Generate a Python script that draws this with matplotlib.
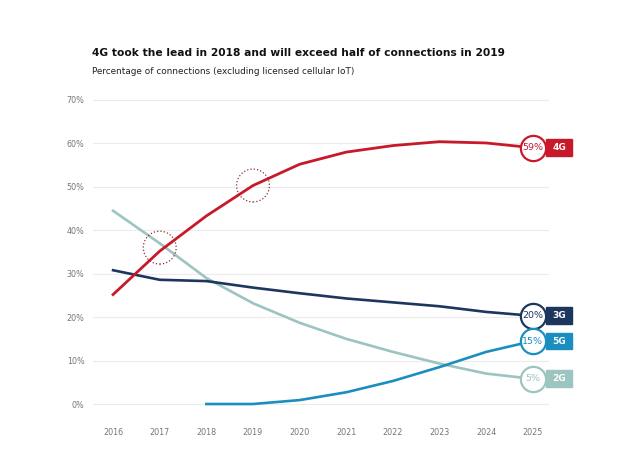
import numpy as np
import matplotlib.pyplot as plt

# dados
anos = [2016, 2017, 2018, 2019, 2020, 2021, 2022, 2023, 2024, 2025]
g4 = [25.2, 35.2, 43.3, 50.3, 55.2, 58.0, 59.5, 60.4, 60.1, 59.0]
g3 = [30.8, 28.6, 28.3, 26.8, 25.5, 24.3, 23.4, 22.5, 21.2, 20.3]
g2 = [44.5, 37.0, 29.0, 23.2, 18.7, 15.0, 12.0, 9.3, 7.0, 5.8]
anos_5g = [2018, 2019, 2020, 2021, 2022, 2023, 2024, 2025]
g5 = [0.0, 0.0, 0.9, 2.7, 5.3, 8.5, 12.0, 14.5]

rotulos_fim = ['59%', '20%', '15%', '5%']
nomes = ['4G', '3G', '5G', '2G']
destaques_x = [2017, 2019]
destaques_y = [36.0, 50.3]

cor_4g = '#c8192b'
cor_3g = '#1d365e'
cor_5g = '#1b8ec0'
cor_2g = '#9cc4c0'

fig = plt.figure(figsize=(6.2, 4.66), dpi=100)
ax = fig.add_axes([0.15, 0.1144, 0.735, 0.6897])

ax.set_xlim(2015.57, 2025.34)
ax.set_ylim(-2, 72)

for y in range(0, 80, 10):
    ax.axhline(y, color='#ececec', lw=0.8, zorder=0)

ax.plot(anos, g2, color=cor_2g, lw=1.9, zorder=2)
ax.plot(anos, g3, color=cor_3g, lw=1.9, zorder=3)
ax.plot(anos_5g, g5, color=cor_5g, lw=1.9, zorder=3)
ax.plot(anos, g4, color=cor_4g, lw=2.0, zorder=4)

# círculos pontilhados
ax.scatter(destaques_x, destaques_y, s=560, facecolors='none', edgecolors='#8b2f3a',
           linestyles=':', linewidths=0.9, zorder=5, clip_on=False)

# círculos e etiquetas no fim das linhas
series = [g4, g3, g5, g2]
cores = [cor_4g, cor_3g, cor_5g, cor_2g]
for serie, cor, rot, nome in zip(series, cores, rotulos_fim, nomes):
    yv = serie[-1]
    ax.scatter([2025], [yv], s=330, facecolors='white', edgecolors=cor, linewidths=1.6,
               zorder=6, clip_on=False)
    ax.text(2025, yv, rot, color=cor, ha='center', va='center', fontsize=6.8,
            family='Liberation Sans Narrow', zorder=7)
    ax.add_patch(plt.Rectangle((2025.28, yv - 1.95), 0.56, 3.9, color=cor,
                               clip_on=False, zorder=6))
    ax.text(2025.56, yv, nome, color='white', ha='center', va='center', fontsize=6.5,
            fontweight='bold', zorder=7)

ax.set_xticks(anos)
ax.set_xticklabels([str(a) for a in anos])
ax.set_yticks(range(0, 80, 10))
ax.set_yticklabels([f'{y}%' for y in range(0, 80, 10)])
ax.tick_params(length=0, labelsize=5.8, labelcolor='#777777')
ax.tick_params(axis='x', pad=11)
ax.tick_params(axis='y', pad=6)
for s in ax.spines.values():
    s.set_visible(False)

fig.text(0.148, 0.886, '4G took the lead in 2018 and will exceed half of connections in 2019',
         fontsize=7.7, fontweight='bold', color='#111111', va='center')
fig.text(0.148, 0.847, 'Percentage of connections (excluding licensed cellular IoT)',
         fontsize=6.4, color='#222222', va='center')

plt.savefig('out.png', dpi=100)
